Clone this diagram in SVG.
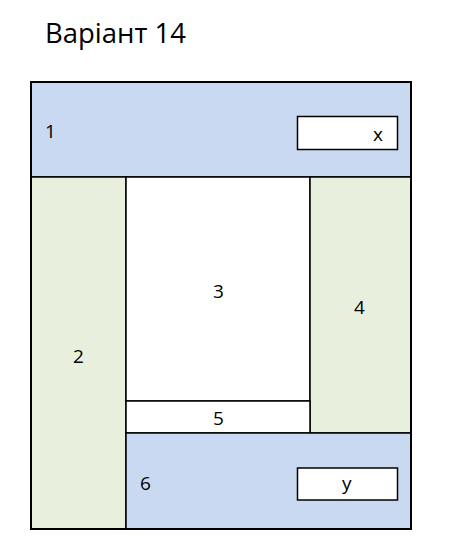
<svg xmlns="http://www.w3.org/2000/svg" width="469" height="554" viewBox="0 0 469 554">
<style>
.b{stroke:#000;stroke-width:1.5}
.blue{fill:#C9D9F1}
.green{fill:#E9EFDD}
.w{fill:#fff}
text{font-family:"Open Sans","Liberation Sans",sans-serif;font-size:19px;fill:#000}
</style>
<rect width="469" height="554" fill="#fff"/>
<text x="45" y="43" style="font-size:27.5px">Варіант 14</text>
<g id="n1"><rect class="b blue" x="31" y="82" width="380" height="95"/><text x="45" y="138">1</text></g>
<g id="nx"><rect class="b w" x="297.5" y="116.5" width="100" height="33"/><text x="373" y="141">x</text></g>
<g id="n2"><rect class="b green" x="31" y="177" width="95" height="352"/><text x="73" y="363">2</text></g>
<g id="n3"><rect class="b w" x="126" y="177" width="184" height="224"/><text x="213" y="298">3</text></g>
<g id="n4"><rect class="b green" x="310" y="177" width="101" height="256"/><text x="354" y="314">4</text></g>
<g id="n5"><rect class="b w" x="126" y="401" width="184" height="32"/><text x="213" y="425">5</text></g>
<g id="n6"><rect class="b blue" x="126" y="433" width="285" height="96"/><text x="140" y="490">6</text></g>
<g id="ny"><rect class="b w" x="297.5" y="468" width="100" height="32"/><text x="342" y="490">y</text></g>
<rect x="31" y="82" width="380" height="447" fill="none" stroke="#000" stroke-width="2"/>
<g id="connectors"/>
</svg>
